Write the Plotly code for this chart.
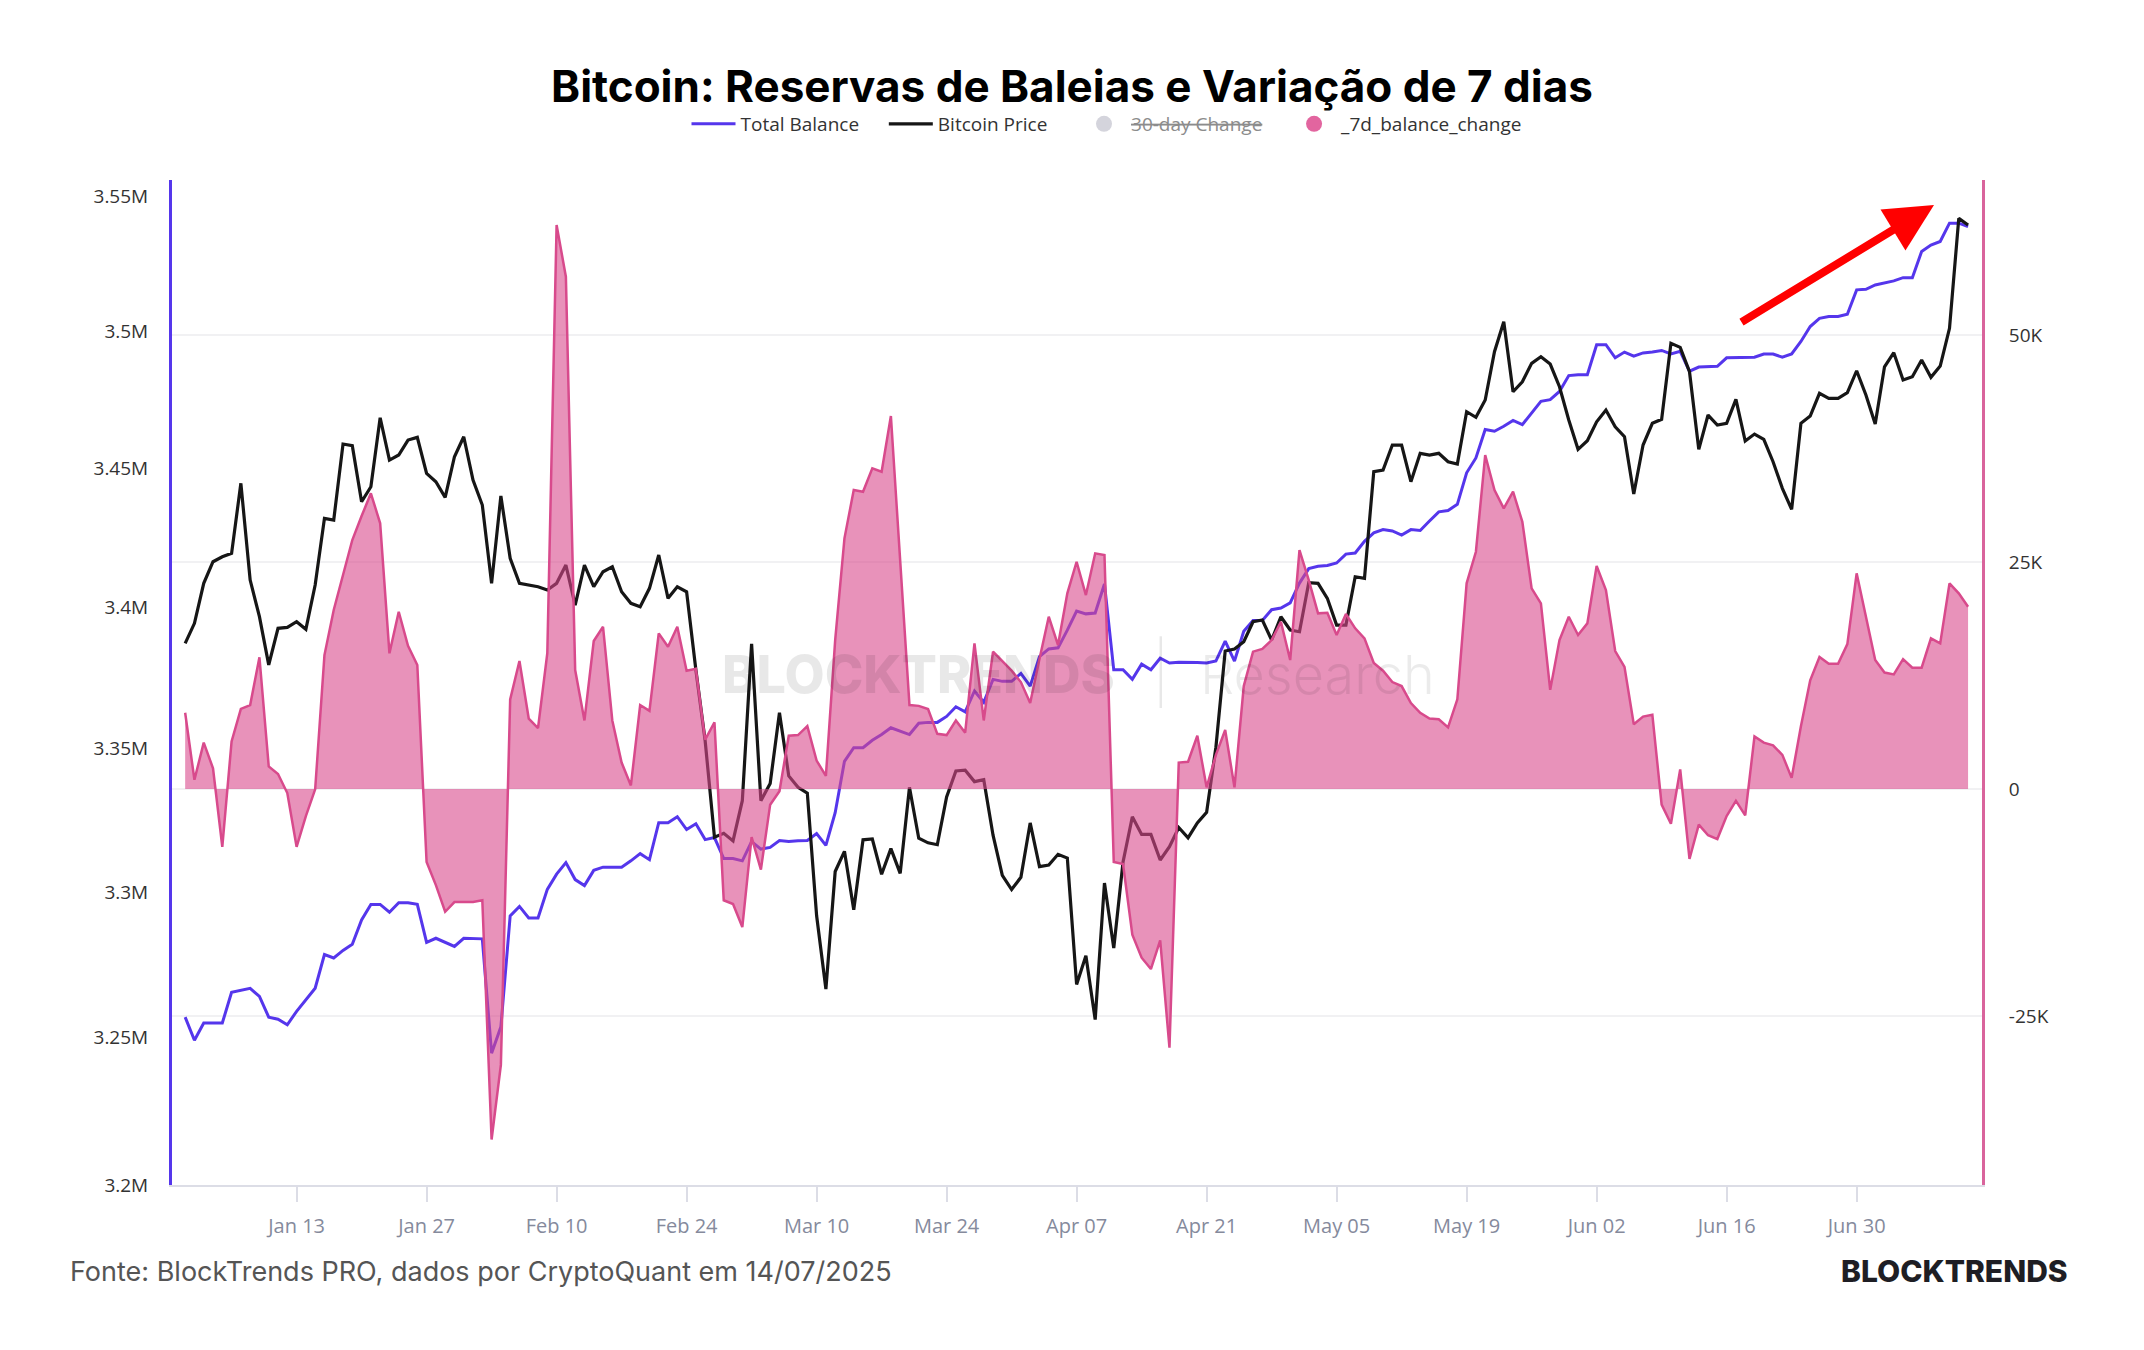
import pandas as pd
import plotly.graph_objects as go

# ---------------- data ----------------
dates = pd.date_range("2025-01-01", periods=193, freq="D")

# Total Balance of whale wallets, in millions of BTC (left, log axis)
total_balance_m = [
    3.2569, 3.2490, 3.2549, 3.2549, 3.2549, 3.2654, 3.2661, 3.2668, 3.2640, 3.2569,
    3.2562, 3.2543, 3.2589, 3.2628, 3.2668, 3.2784, 3.2772, 3.2798, 3.2819, 3.2903,
    3.2957, 3.2957, 3.2930, 3.2963, 3.2963, 3.2957, 3.2826, 3.2840, 3.2826, 3.2812,
    3.2840, 3.2840, 3.2838, 3.2446, 3.2536, 3.2917, 3.2950, 3.2910, 3.2910, 3.3009,
    3.3062, 3.3102, 3.3043, 3.3022, 3.3075, 3.3086, 3.3086, 3.3086, 3.3108, 3.3133,
    3.3112, 3.3241, 3.3241, 3.3262, 3.3217, 3.3237, 3.3182, 3.3189, 3.3116, 3.3116,
    3.3108, 3.3175, 3.3149, 3.3155, 3.3179, 3.3175, 3.3178, 3.3179, 3.3203, 3.3162,
    3.3276, 3.3456, 3.3504, 3.3504, 3.3530, 3.3550, 3.3574, 3.3563, 3.3550, 3.3590,
    3.3593, 3.3593, 3.3614, 3.3648, 3.3630, 3.3704, 3.3664, 3.3745, 3.3738, 3.3738,
    3.3766, 3.3721, 3.3826, 3.3853, 3.3857, 3.3920, 3.3988, 3.3978, 3.3981, 3.4085,
    3.3779, 3.3779, 3.3745, 3.3799, 3.3779, 3.3820, 3.3803, 3.3806, 3.3806, 3.3805,
    3.3803, 3.3810, 3.3881, 3.3810, 3.3916, 3.3954, 3.3954, 3.3993, 3.3999, 3.4017,
    3.4088, 3.4140, 3.4148, 3.4151, 3.4160, 3.4192, 3.4196, 3.4238, 3.4268, 3.4280,
    3.4275, 3.4260, 3.4280, 3.4277, 3.4311, 3.4344, 3.4349, 3.4371, 3.4485, 3.4539,
    3.4642, 3.4636, 3.4654, 3.4675, 3.4660, 3.4702, 3.4745, 3.4751, 3.4781, 3.4839,
    3.4842, 3.4842, 3.4952, 3.4952, 3.4904, 3.4925, 3.4910, 3.4922, 3.4925, 3.4931,
    3.4918, 3.4928, 3.4855, 3.4870, 3.4872, 3.4873, 3.4904, 3.4905, 3.4905, 3.4906,
    3.4918, 3.4918, 3.4906, 3.4918, 3.4964, 3.5019, 3.5049, 3.5056, 3.5056, 3.5064,
    3.5154, 3.5156, 3.5172, 3.5179, 3.5187, 3.5199, 3.5199, 3.5296, 3.5320, 3.5333,
    3.5401, 3.5401, 3.5388,
]

# Bitcoin price in USD (hidden axis)
btc_price = [
    95642, 96672, 98732, 99844, 100101, 100276, 103881, 98901, 97012, 94530,
    96414, 96466, 96754, 96363, 98644, 102078, 101991, 105904, 105817, 102933,
    103705, 107258, 105080, 105338, 106110, 106249, 104395, 103963, 103160, 105250,
    106280, 104050, 102763, 98732, 103227, 100019, 98732, 98644, 98556, 98387,
    98732, 99674, 97614, 99674, 98556, 99329, 99586, 98299, 97702, 97527,
    98474, 100189, 97959, 98556, 98299, 94267, 90612, 85663, 85859, 85468,
    87538, 95616, 87538, 88423, 92069, 88815, 88228, 87929, 81627, 77842,
    83892, 84932, 81920, 85524, 85566, 83753, 85071, 83794, 88228, 85607,
    85370, 85272, 87733, 89072, 89113, 88521, 88619, 85761, 83691, 82965,
    83593, 86395, 84144, 84227, 84778, 84582, 78079, 79557, 76266, 83300,
    79948, 84381, 86709, 85802, 85802, 84484, 85169, 86158, 85622, 86395,
    86945, 90292, 95246, 95349, 95725, 96754, 96842, 95812, 97012, 96327,
    96239, 98762, 98732, 97959, 96584, 96584, 99071, 98989, 104478, 104565,
    105853, 105853, 103963, 105425, 105338, 105425, 104993, 104874, 107567, 107279,
    108170, 110657, 112201, 108597, 109112, 110059, 110399, 110023, 108855, 107140,
    105631, 106074, 107052, 107655, 106795, 106280, 103330, 105853, 106970, 107176,
    111089, 110883, 109627, 105631, 107397, 106882, 106970, 108206, 106059, 106419,
    106146, 104993, 103623, 102542, 106970, 107346, 108515, 108257, 108257, 108546,
    109678, 108427, 106934, 109884, 110605, 109199, 109369, 110229, 109338, 109920,
    111861, 117525, 117180,
]

# 7-day balance change in BTC (right axis)
balance_change_7d = [
    8403, 1024, 5110, 2291, -6355, 5242, 8821, 9251, 14515, 2500,
    1652, -441, -6355, -2974, -33, 14757, 19713, 23568, 27422, 30066,
    32565, 29262, 14945, 19526, 15782, 13656, -8039, -10572, -13513, -12445,
    -12445, -12445, -12246, -38590, -30374, 9879, 14097, 7764, 6718, 14978,
    62113, 56420, 13105, 7555, 16299, 17874, 7555, 2918, 396, 9251,
    8612, 17147, 15671, 17874, 13039, 13249, 5451, 7346, -12246, -12665,
    -15198, -5300, -8876, -1718, -242, 5870, 5947, 6938, 3139, 1443,
    16409, 27610, 32929, 32742, 35319, 34944, 41078, 25220, 9251, 9163,
    8810, 6079, 5947, 7555, 6211, 16046, 7555, 15143, 14097, 13039,
    11784, 9471, 14317, 18975, 15859, 21552, 25032, 21365, 25958, 25770,
    -8039, -8249, -16046, -18568, -19823, -16674, -28480, 2918, 3007, 5870,
    187, 3766, 6498, 187, 11343, 15132, 15429, 16409, 18425, 14207,
    26321, 23017, 19350, 19416, 16960, 19273, 17698, 16597, 13876, 13039,
    11784, 11343, 9471, 8403, 7764, 7687, 6795, 9879, 22654, 26134,
    36783, 32929, 30914, 32742, 29438, 22103, 20451, 10925, 16409, 18975,
    16960, 18248, 24559, 21916, 15198, 13458, 7136, 7984, 8194, -1718,
    -3822, 2159, -7698, -3910, -5088, -5507, -2974, -1289, -2896, 5793,
    5110, 4824, 3766, 1233, 6927, 11982, 14537, 13799, 13799, 15969,
    23755, 18799, 14207, 12830, 12621, 14306, 13370, 13370, 16597, 16046,
    22654, 21552, 20077,
]

left_tick_vals = [3.2, 3.25, 3.3, 3.35, 3.4, 3.45, 3.5, 3.55]
left_tick_text = ["3.2M", "3.25M", "3.3M", "3.35M", "3.4M", "3.45M", "3.5M", "3.55M"]
right_tick_vals = [-25000, 0, 25000, 50000]
right_tick_text = ["-25K", "0", "25K", "50K"]

# ---------------- styling ----------------
BLUE = "#5536ec"
BLACK = "#161616"
PINK_LINE = "#d84a8c"
PINK_FILL = "rgba(216, 74, 140, 0.6)"
TICK_FONT = "Open Sans"
GAP = "&nbsp;" * 4

fig = go.Figure()

fig.add_trace(go.Scatter(
    x=dates, y=total_balance_m, name="Total Balance" + GAP, mode="lines",
    line=dict(color=BLUE, width=3), yaxis="y", legendrank=1,
))
fig.add_trace(go.Scatter(
    x=dates, y=btc_price, name="Bitcoin Price" + GAP + "&nbsp;", mode="lines",
    line=dict(color=BLACK, width=3.2), yaxis="y2", legendrank=2,
))
fig.add_trace(go.Scatter(
    x=dates, y=balance_change_7d, name="_7d_balance_change", mode="lines",
    line=dict(color=PINK_LINE, width=2.5), fill="tozeroy", fillcolor=PINK_FILL,
    yaxis="y3", showlegend=False,
))
# legend entries (circle symbols as in the reference legend)
fig.add_trace(go.Scatter(
    x=[None], y=[None], mode="markers", yaxis="y3", legendrank=3,
    name='<span style="text-decoration:line-through;color:#8c8c8c">30-day Change</span>' + GAP,
    marker=dict(size=18, color="#d4d4dc"),
))
fig.add_trace(go.Scatter(
    x=[None], y=[None], mode="markers", yaxis="y3", legendrank=4,
    name="_7d_balance_change", marker=dict(size=18, color="#e2659f"),
))

plot_top, plot_bottom, plot_left, plot_right = 180, 1185, 172, 1982
ph = plot_bottom - plot_top
pw = plot_right - plot_left


def px(xp):
    return (xp - plot_left) / pw


def py(yp):
    return 1 - (yp - plot_top) / ph


fig.update_layout(
    width=2144, height=1350,
    margin=dict(l=plot_left, r=2144 - plot_right, t=plot_top, b=1350 - plot_bottom),
    paper_bgcolor="white", plot_bgcolor="white",
    title=dict(
        text="Bitcoin: Reservas de Baleias e Variação de 7 dias",
        x=0.5, xanchor="center", y=1 - 87 / 1350, yanchor="middle", yref="container",
        font=dict(family="Inter", size=44, color="#000000", weight=700),
    ),
    legend=dict(
        orientation="h", x=px(1107), xanchor="center", y=py(124), yanchor="middle",
        font=dict(family=TICK_FONT, size=19, color="#333333"),
        bgcolor="rgba(0,0,0,0)", itemwidth=44,
    ),
    showlegend=True,
    xaxis=dict(
        type="date",
        range=["2024-12-30 14:00", "2025-07-13 12:00"],
        tick0="2025-01-13", dtick=14 * 86400000, tickformat="%b %d",
        showgrid=False, zeroline=False,
        showline=True, linecolor="#dcdde6", linewidth=2,
        ticks="outside", ticklen=15, tickwidth=2, tickcolor="#dcdde6",
        tickfont=dict(family=TICK_FONT, size=20, color="#858a9c"),
        ticklabelstandoff=7,
    ),
    yaxis=dict(
        type="log",
        range=[0.505150, 0.550985],
        tickvals=left_tick_vals, ticktext=left_tick_text,
        showgrid=False, zeroline=False,
        showline=True, linecolor=BLUE, linewidth=3,
        ticks="", tickfont=dict(family=TICK_FONT, size=19, color="#333333"),
        ticklabelstandoff=17,
    ),
    yaxis2=dict(
        overlaying="y", range=[67750, 119500], visible=False,
        showgrid=False, zeroline=False,
    ),
    yaxis3=dict(
        overlaying="y", side="right", range=[-43600, 67070],
        tickvals=right_tick_vals, ticktext=right_tick_text,
        showgrid=True, gridcolor="#f1f1f3", gridwidth=2, zeroline=False,
        showline=True, linecolor="#d9649c", linewidth=3,
        ticks="", tickfont=dict(family=TICK_FONT, size=19, color="#333333"),
        ticklabelstandoff=20,
    ),
)

annotations = [
    # watermark
    dict(text="BLOCKTRENDS", x=px(918), y=py(674), xref="paper", yref="paper",
         xanchor="center", yanchor="middle", showarrow=False,
         font=dict(family="Inter", size=52, color="rgba(0,0,0,0.09)", weight=800)),
    dict(text="|", x=px(1161), y=py(672), xref="paper", yref="paper",
         xanchor="center", yanchor="middle", showarrow=False,
         font=dict(family="Inter", size=60, color="rgba(0,0,0,0.09)", weight=200)),
    dict(text="Research", x=px(1198), y=py(674), xref="paper", yref="paper",
         xanchor="left", yanchor="middle", showarrow=False,
         font=dict(family="Inter", size=54, color="rgba(0,0,0,0.08)", weight=300)),
    # red arrow
    dict(text="", x=px(1934), y=py(205), xref="paper", yref="paper",
         ax=1740 - 1934, ay=323 - 205, axref="pixel", ayref="pixel",
         showarrow=True, arrowhead=2, arrowsize=1.2, arrowwidth=8,
         arrowcolor="#ff0000", standoff=0),
    # footer
    dict(text="Fonte: BlockTrends PRO, dados por CryptoQuant em 14/07/2025",
         x=px(68), y=py(1271), xref="paper", yref="paper",
         xanchor="left", yanchor="middle", showarrow=False,
         font=dict(family="Inter", size=27, color="#555555")),
    dict(text="BLOCKTRENDS", x=px(2070), y=py(1271), xref="paper", yref="paper",
         xanchor="right", yanchor="middle", showarrow=False,
         font=dict(family="Inter", size=30, color="#1e1e24", weight=800)),
]
fig.update_layout(annotations=annotations)

fig.write_html("out.html")
